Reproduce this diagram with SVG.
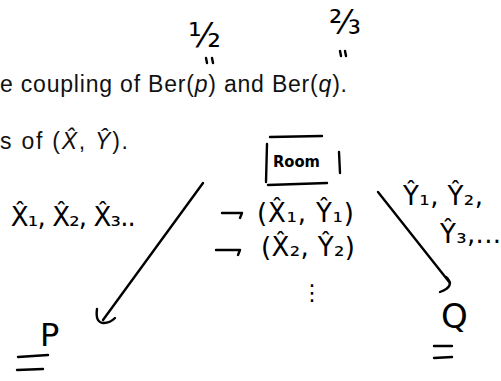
<svg xmlns="http://www.w3.org/2000/svg" width="501" height="381" viewBox="0 0 501 381">
<style>
.pr{font-family:"Liberation Sans","DejaVu Sans",sans-serif;fill:#111;font-size:23px}
.hw{font-family:"DejaVu Sans","Noto Sans",sans-serif;fill:#000}
.st{fill:none;stroke:#000;stroke-width:2.4;stroke-linecap:round;stroke-linejoin:round}
</style>
<rect width="501" height="381" fill="#fff"/>
<g id="printed">
<text class="pr" x="0" y="92" textLength="347" lengthAdjust="spacing">e coupling of Ber(<tspan font-style="italic">p</tspan>) and Ber(<tspan font-style="italic">q</tspan>).</text>
<text class="pr" x="0" y="149" textLength="128" lengthAdjust="spacing">s of (<tspan font-style="italic">X̂</tspan>, <tspan font-style="italic">Ŷ</tspan>).</text>
</g>
<g id="annot-p">
<text class="hw" x="188" y="47" font-size="34">½</text>
<path class="st" d="M206,58 l1,5 M212,58 l1,5" stroke-width="1.8"/>
</g>
<g id="annot-q">
<text class="hw" x="329" y="34" font-size="33">⅔</text>
<path class="st" d="M340,51 l1,5 M345,51 l1,5" stroke-width="1.8"/>
</g>
<g id="xs">
<text class="hw" x="10" y="226" font-size="26" textLength="125" lengthAdjust="spacing">X̂₁, X̂₂, X̂₃..</text>
</g>
<g id="room">
<path class="st" d="M270,137 L322,136 M267,144 L266,182 M339,152 L340,173 M268,185 L327,183"/>
<text class="hw" x="273" y="167" font-size="16" font-weight="bold" textLength="47" lengthAdjust="spacingAndGlyphs">Room</text>
</g>
<g id="pair1">
<text class="hw" x="257" y="222" font-size="26" textLength="97" lengthAdjust="spacing">(X̂₁, Ŷ₁)</text>
</g>
<g id="pair2">
<text class="hw" x="261" y="256" font-size="26" textLength="94" lengthAdjust="spacing">(X̂₂, Ŷ₂)</text>
</g>
<g id="dots">
<text class="hw" x="301" y="300" font-size="22">⋮</text>
</g>
<g id="ys">
<text class="hw" x="403" y="205" font-size="26" textLength="80" lengthAdjust="spacing">Ŷ₁, Ŷ₂,</text>
<text class="hw" x="440" y="243" font-size="26" textLength="61" lengthAdjust="spacing">Ŷ₃,...</text>
</g>
<g id="P">
<text class="hw" x="40" y="346" font-size="32">P</text>
<path class="st" d="M18,357 L48,355 M17,370 L43,369"/>
</g>
<g id="Q">
<text class="hw" x="441" y="328" font-size="34">Q</text>
<path class="st" d="M434,346 L452,346 M434,358 L452,357"/>
</g>
<g id="connectors">
<path class="st" d="M203,183 L103,320"/>
<path class="st" d="M97,309 Q95,323 104,323 Q110,323 115,318"/>
<path class="st" d="M378,192 L450,283"/>
<path class="st" d="M446,277 Q456,286 440,292"/>
<path class="st" d="M222,213 L242,213 L240,218" stroke-width="2"/>
<path class="st" d="M216,250 L240,250 L238,255" stroke-width="2"/>
</g>
</svg>
